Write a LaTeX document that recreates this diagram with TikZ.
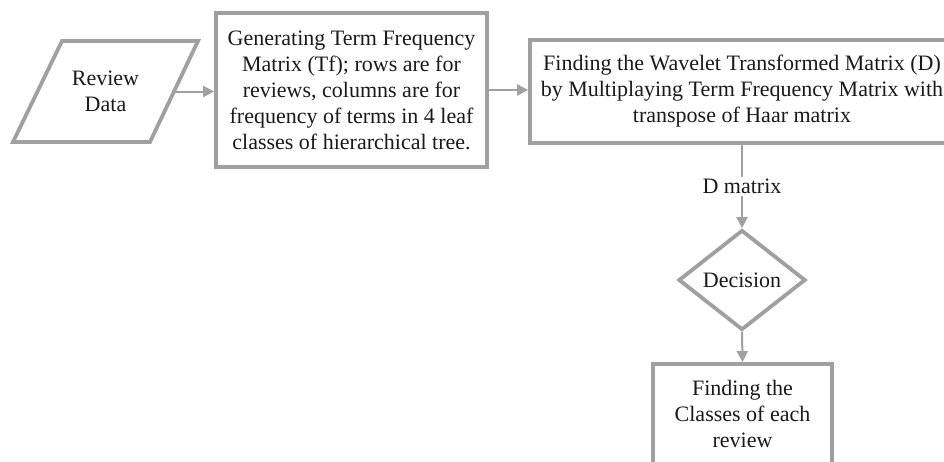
\documentclass[tikz,border=0pt]{standalone}
\usepackage{fontspec}
\setmainfont{Liberation Serif}
\usetikzlibrary{shapes.geometric,arrows.meta}
\definecolor{edgegray}{HTML}{A0A0A0}
\definecolor{ink}{HTML}{1A1A1A}
\begin{document}
\begin{tikzpicture}[x=1pt,y=-1pt,
  outline/.style={draw=edgegray, line width=3.8pt, line join=miter, fill=white},
  label/.style={text=ink, align=center, inner sep=0pt, font=\fontsize{22}{26}\selectfont},
  base/.style={outline, label},
  procbox/.style={base, rectangle},
  choice/.style={base, diamond},
  flow/.style={draw=edgegray, line width=2pt, -{Triangle[length=11pt,width=11pt]}},
  edgelabel/.style={label, fill=white, inner sep=2pt}]
\clip (0,0) rectangle (944,461);
\fill[white] (0,0) rectangle (944,461);

% input parallelogram
\draw[outline] (62,41) -- (198,41) -- (150,142) -- (13,142) -- cycle;
\node[label] (data) at (105.5,91.5) {Review\\Data};
\coordinate (dataout) at (174,91.5);

\node[procbox, minimum width=271pt, minimum height=154pt] (tf) at (351.5,90)
  {Generating Term Frequency\\Matrix (Tf); rows are for\\reviews, columns are for\\frequency of terms in 4 leaf\\classes of hierarchical tree.};

\node[procbox, minimum width=424pt, minimum height=103pt] (wave) at (742,91.5)
  {Finding the Wavelet Transformed Matrix (D)\\by Multiplaying Term Frequency Matrix with\\transpose of Haar matrix};

\node[choice, minimum width=127pt, minimum height=100pt] (dec) at (742,280) {Decision};

\node[procbox, minimum width=179pt, minimum height=100pt] (cls) at (742.5,414)
  {Finding the\\Classes of each\\review};

\draw[flow] (dataout) -- (dataout -| tf.west);
\draw[flow] (tf.east) -- (tf.east -| wave.west);
\draw[flow] (wave.south) -- node[edgelabel] (dlab) {D matrix} (dec.north);
\draw[flow] (dec.south) -- (cls.north);
\end{tikzpicture}
\end{document}
